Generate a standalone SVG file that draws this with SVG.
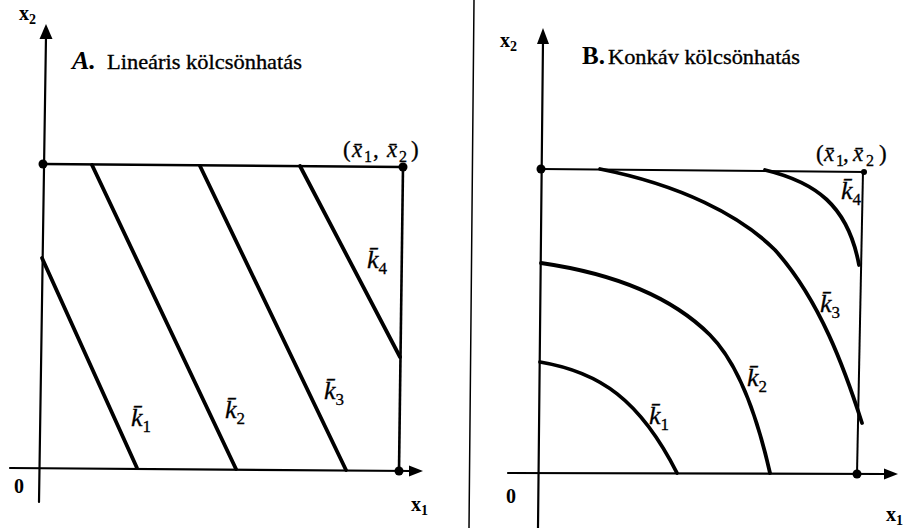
<svg xmlns="http://www.w3.org/2000/svg" width="904" height="528" viewBox="0 0 904 528">
<defs>
<style>
.ax{stroke:#000;stroke-width:2.2;fill:none;stroke-linecap:round}
.bx{stroke:#000;stroke-width:2.6;fill:none}
.cv{stroke:#000;stroke-width:3.8;fill:none;stroke-linecap:round}
.ah{fill:#000}
.dot{fill:#000}
text{font-family:"Liberation Serif","DejaVu Serif","Times New Roman",serif;fill:#000}
.lab{font-size:20px;font-weight:bold}
.sub{font-size:14px}
.ttl{font-size:22px;stroke:#000;stroke-width:0.35}
.k{font-size:26px;font-style:italic;stroke:#000;stroke-width:0.3}
.ks{font-size:17px;font-style:normal}
.pt{font-size:23px;stroke:#000;stroke-width:0.3}
.ps{font-size:16px}
.it{font-style:italic}
</style>
</defs>
<rect width="904" height="528" fill="#fff"/>
<line class="ax" x1="474" y1="0" x2="469" y2="528" style="stroke-width:1.5"/>

<g id="panelA">
  <g id="A-axes">
    <line class="ax" x1="39" y1="502" x2="46" y2="36"/>
    <polygon class="ah" points="46,24 39.5,39 52.5,39"/>
    <line class="ax" x1="10" y1="468" x2="412" y2="471"/>
    <polygon class="ah" points="423,471 409,465.5 409,476.5"/>
  </g>
  <g id="A-box">
    <line class="bx" x1="43" y1="164" x2="403" y2="167"/>
    <line class="bx" x1="403" y1="167" x2="399" y2="471"/>
    <circle class="dot" cx="43" cy="164" r="4.5"/>
    <circle class="dot" cx="403" cy="167" r="4.5"/>
    <circle class="dot" cx="399" cy="471" r="4.5"/>
  </g>
  <g id="A-lines">
    <line class="cv" x1="42" y1="258" x2="137" y2="468"/>
    <line class="cv" x1="92" y1="165" x2="236" y2="469"/>
    <line class="cv" x1="200" y1="166" x2="346" y2="470"/>
    <line class="cv" x1="300" y1="166" x2="400" y2="357"/>
  </g>
  <text class="lab" x="19" y="20">x<tspan class="sub" dy="4">2</tspan></text>
  <text class="lab" x="14" y="493">0</text>
  <text class="lab" x="411" y="511">x<tspan class="sub" dy="4">1</tspan></text>
  <text x="72" y="69"><tspan style="font-size:26px;font-weight:bold;font-style:italic">A.</tspan><tspan class="ttl" x="107" textLength="195" lengthAdjust="spacingAndGlyphs">Lineáris kölcsönhatás</tspan></text>
  <text class="pt" y="157"><tspan x="343">(</tspan><tspan class="it" x="352">x̄</tspan><tspan class="ps" x="364" dy="5">1</tspan><tspan x="373" dy="-5">,</tspan><tspan class="it" x="387">x̄</tspan><tspan class="ps" x="399" dy="5">2</tspan><tspan x="411" dy="-5">)</tspan></text>
  <text class="k" x="131" y="426">k̄<tspan class="ks" dy="6">1</tspan></text>
  <text class="k" x="225" y="418">k̄<tspan class="ks" dy="6">2</tspan></text>
  <text class="k" x="324" y="399">k̄<tspan class="ks" dy="6">3</tspan></text>
  <text class="k" x="367" y="268">k̄<tspan class="ks" dy="6">4</tspan></text>
</g>

<g id="panelB">
  <g id="B-axes">
    <line class="ax" x1="538" y1="528" x2="543" y2="40"/>
    <polygon class="ah" points="543,28 537,44 549,44"/>
    <line class="ax" x1="508" y1="473" x2="886" y2="474"/>
    <polygon class="ah" points="898,474 884,468.5 884,479.5"/>
  </g>
  <g id="B-box">
    <line class="bx" x1="541" y1="169" x2="866" y2="172" style="stroke-width:2"/>
    <line class="bx" x1="863" y1="171" x2="857" y2="474" style="stroke-width:2"/>
    <circle class="dot" cx="541" cy="169" r="4.5"/>
    <circle class="dot" cx="864" cy="172" r="3"/>
    <circle class="dot" cx="857" cy="474" r="4.5"/>
  </g>
  <g id="B-curves">
    <path class="cv" d="M540,362 C600,372 640,400 677,473"/>
    <path class="cv" d="M541,263 C610,273 670,295 710,335 C740,365 758,420 770,473"/>
    <path class="cv" d="M600,169 C680,185 740,215 775,250 C820,300 845,370 862,423"/>
    <path class="cv" d="M765,170 C815,182 848,205 859,265"/>
  </g>
  <text class="lab" x="500" y="47">x<tspan class="sub" dy="4">2</tspan></text>
  <text class="lab" x="506" y="503">0</text>
  <text class="lab" x="886" y="521">x<tspan class="sub" dy="4">1</tspan></text>
  <text x="582" y="64"><tspan style="font-size:25px;font-weight:bold">B.</tspan><tspan class="ttl" x="608" textLength="192" lengthAdjust="spacingAndGlyphs">Konkáv kölcsönhatás</tspan></text>
  <text class="pt" y="161"><tspan x="816">(</tspan><tspan class="it" x="824">x̄</tspan><tspan class="ps" x="836" dy="5">1</tspan><tspan x="843" dy="-5">,</tspan><tspan class="it" x="853">x̄</tspan><tspan class="ps" x="866" dy="5">2</tspan><tspan x="879" dy="-5">)</tspan></text>
  <text class="k" x="649" y="424">k̄<tspan class="ks" dy="6">1</tspan></text>
  <text class="k" x="747" y="386">k̄<tspan class="ks" dy="6">2</tspan></text>
  <text class="k" x="820" y="312">k̄<tspan class="ks" dy="6">3</tspan></text>
  <text class="k" x="841" y="199">k̄<tspan class="ks" dy="6">4</tspan></text>
</g>
</svg>
